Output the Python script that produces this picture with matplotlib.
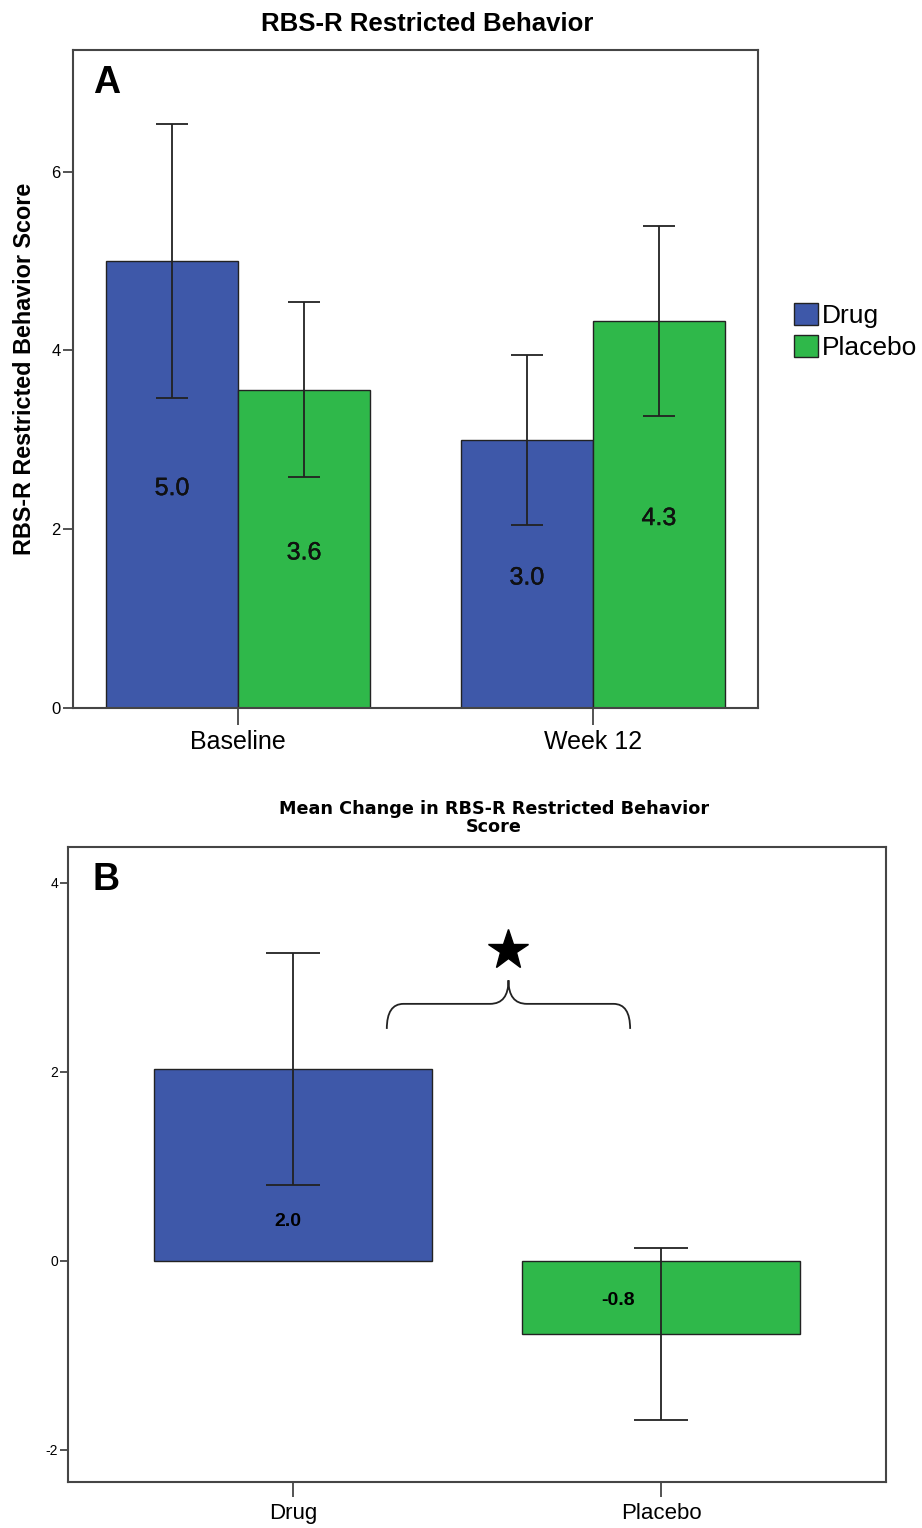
import matplotlib
matplotlib.use("Agg")
import matplotlib.pyplot as plt
import matplotlib.patheffects as pe
from matplotlib.patches import Patch
from matplotlib.path import Path
from matplotlib.patches import PathPatch

plt.rcParams['font.family'] = ['Liberation Sans', 'DejaVu Sans']
plt.rcParams['axes.unicode_minus'] = False

# panel A data
timepoints = ["Baseline", "Week 12"]
drug_mean = [5.0, 3.0]
drug_err = [1.53, 0.95]
placebo_mean = [3.56, 4.33]
placebo_err = [0.98, 1.06]

# panel B data
change_groups = ["Drug", "Placebo"]
change_mean = [2.03, -0.77]
change_err = [1.23, 0.91]

blue = '#3E58A9'
green = '#2FB84A'
spine_c = '#454545'
heavy = [pe.withStroke(linewidth=0.25, foreground='black')]

fig = plt.figure(figsize=(9.22, 15.28), dpi=100)

# ---------- A ----------
ax = fig.add_axes([73/922, 1-708/1528, (758-73)/922, (708-50)/1528])
w = 0.372
xs = range(len(timepoints))
xd = [x - w/2 for x in xs]
xp = [x + w/2 for x in xs]
ax.bar(xd, drug_mean, width=w, color=blue, edgecolor='#222222', linewidth=1.0, label='Drug')
ax.bar(xp, placebo_mean, width=w, color=green, edgecolor='#222222', linewidth=1.0, label='Placebo')
ax.errorbar(xd, drug_mean, yerr=drug_err, fmt='none', ecolor='#222222', elinewidth=1.3, capsize=11.5, capthick=1.3)
ax.errorbar(xp, placebo_mean, yerr=placebo_err, fmt='none', ecolor='#222222', elinewidth=1.3, capsize=11.5, capthick=1.3)
for x, v in zip(xd, drug_mean):
    ax.text(x, v/2 - 0.04, f"{v:.1f}", ha='center', va='center', fontsize=18, color='#111111',
            path_effects=heavy)
for x, v in zip(xp, placebo_mean):
    ax.text(x, v/2 - 0.04, f"{v:.1f}", ha='center', va='center', fontsize=18, color='#111111',
            path_effects=heavy)
ax.set_xlim(-0.465, 1.465)
ax.set_ylim(0, 7.36)
ax.set_yticks([0, 2, 4, 6])
ax.set_xticks(list(xs))
ax.set_xticklabels(timepoints, fontsize=18)
ax.tick_params(axis='y', labelsize=12, length=7, width=1.3, color=spine_c, pad=2)
ax.tick_params(axis='x', length=12, width=1.3, color=spine_c, pad=4)
ax.set_ylabel("RBS-R Restricted Behavior Score", fontsize=16.8, fontweight='bold')
ax.yaxis.set_label_coords(-0.054, 0.515)
ax.spines[:].set_color(spine_c)
ax.spines[:].set_linewidth(1.5)
ax.text(0.03, 0.977, "A", transform=ax.transAxes, fontsize=27, fontweight='bold', va='top')
fig.text(427/922, 1-24/1528, "RBS-R Restricted Behavior", ha='center', va='center',
         fontsize=18.5, fontweight='bold')
fig.legend(handles=[Patch(facecolor=blue, edgecolor='#222222', label='Drug'),
                    Patch(facecolor=green, edgecolor='#222222', label='Placebo')],
           loc='upper left', bbox_to_anchor=(794/922, 1-303/1528), frameon=False,
           fontsize=19, handlelength=0.92, handleheight=0.92, handletextpad=0.15,
           labelspacing=0.25, borderpad=0, borderaxespad=0)

# ---------- B ----------
bx = fig.add_axes([68/922, 1-1482/1528, (886-68)/922, (1482-847)/1528])
wb = 0.755
xb = list(range(len(change_groups)))
bx.bar(xb, change_mean, width=wb, color=[blue, green], edgecolor='#222222', linewidth=1.0)
bx.errorbar(xb, change_mean, yerr=change_err, fmt='none', ecolor='#222222', elinewidth=1.3,
            capsize=19.5, capthick=1.3)
# value labels (SPSS placement)
lab_pos = [(-0.014, 0.42), (-0.117, -0.42)]
for (dx, ly), x, v in zip(lab_pos, xb, change_mean):
    bx.text(x + dx, ly, f"{v:.1f}", ha='center', va='center', fontsize=14,
            fontweight='bold', color='black')
bx.set_xlim(-0.611, 1.611)
bx.set_ylim(-2.34, 4.38)
bx.set_yticks([-2, 0, 2, 4])
bx.set_xticks(xb)
bx.set_xticklabels(change_groups, fontsize=16)
bx.tick_params(axis='y', labelsize=10, length=6, width=1.3, color=spine_c, pad=1)
bx.tick_params(axis='x', length=11, width=1.3, color=spine_c, pad=4)
bx.spines[:].set_color(spine_c)
bx.spines[:].set_linewidth(1.5)
bx.text(0.03, 0.977, "B", transform=bx.transAxes, fontsize=27, fontweight='bold', va='top')
fig.text(494/922, 1-818/1528, "Mean Change in RBS-R Restricted Behavior\nScore", ha='center',
         va='center', fontsize=12.7, fontweight='bold', family='DejaVu Sans', linespacing=1.0)

# significance brace + star
x0, x1, yb, yl, yt = 0.255, 0.916, 2.455, 2.72, 2.97
xc = (x0 + x1) / 2
r1, r2 = 0.045, 0.05
verts = [(x0, yb), (x0, yl), (x0 + r1, yl), (xc - r2, yl), (xc, yl), (xc, yt),
         (xc, yl), (xc + r2, yl), (x1 - r1, yl), (x1, yl), (x1, yb)]
codes = [Path.MOVETO, Path.CURVE3, Path.CURVE3, Path.LINETO, Path.CURVE3, Path.CURVE3,
         Path.CURVE3, Path.CURVE3, Path.LINETO, Path.CURVE3, Path.CURVE3]
bx.add_patch(PathPatch(Path(verts, codes), fill=False, edgecolor='#222222', linewidth=1.3))
bx.plot([xc], [3.29], marker='*', markersize=30, color='black')

fig.savefig("out.png", dpi=100)
